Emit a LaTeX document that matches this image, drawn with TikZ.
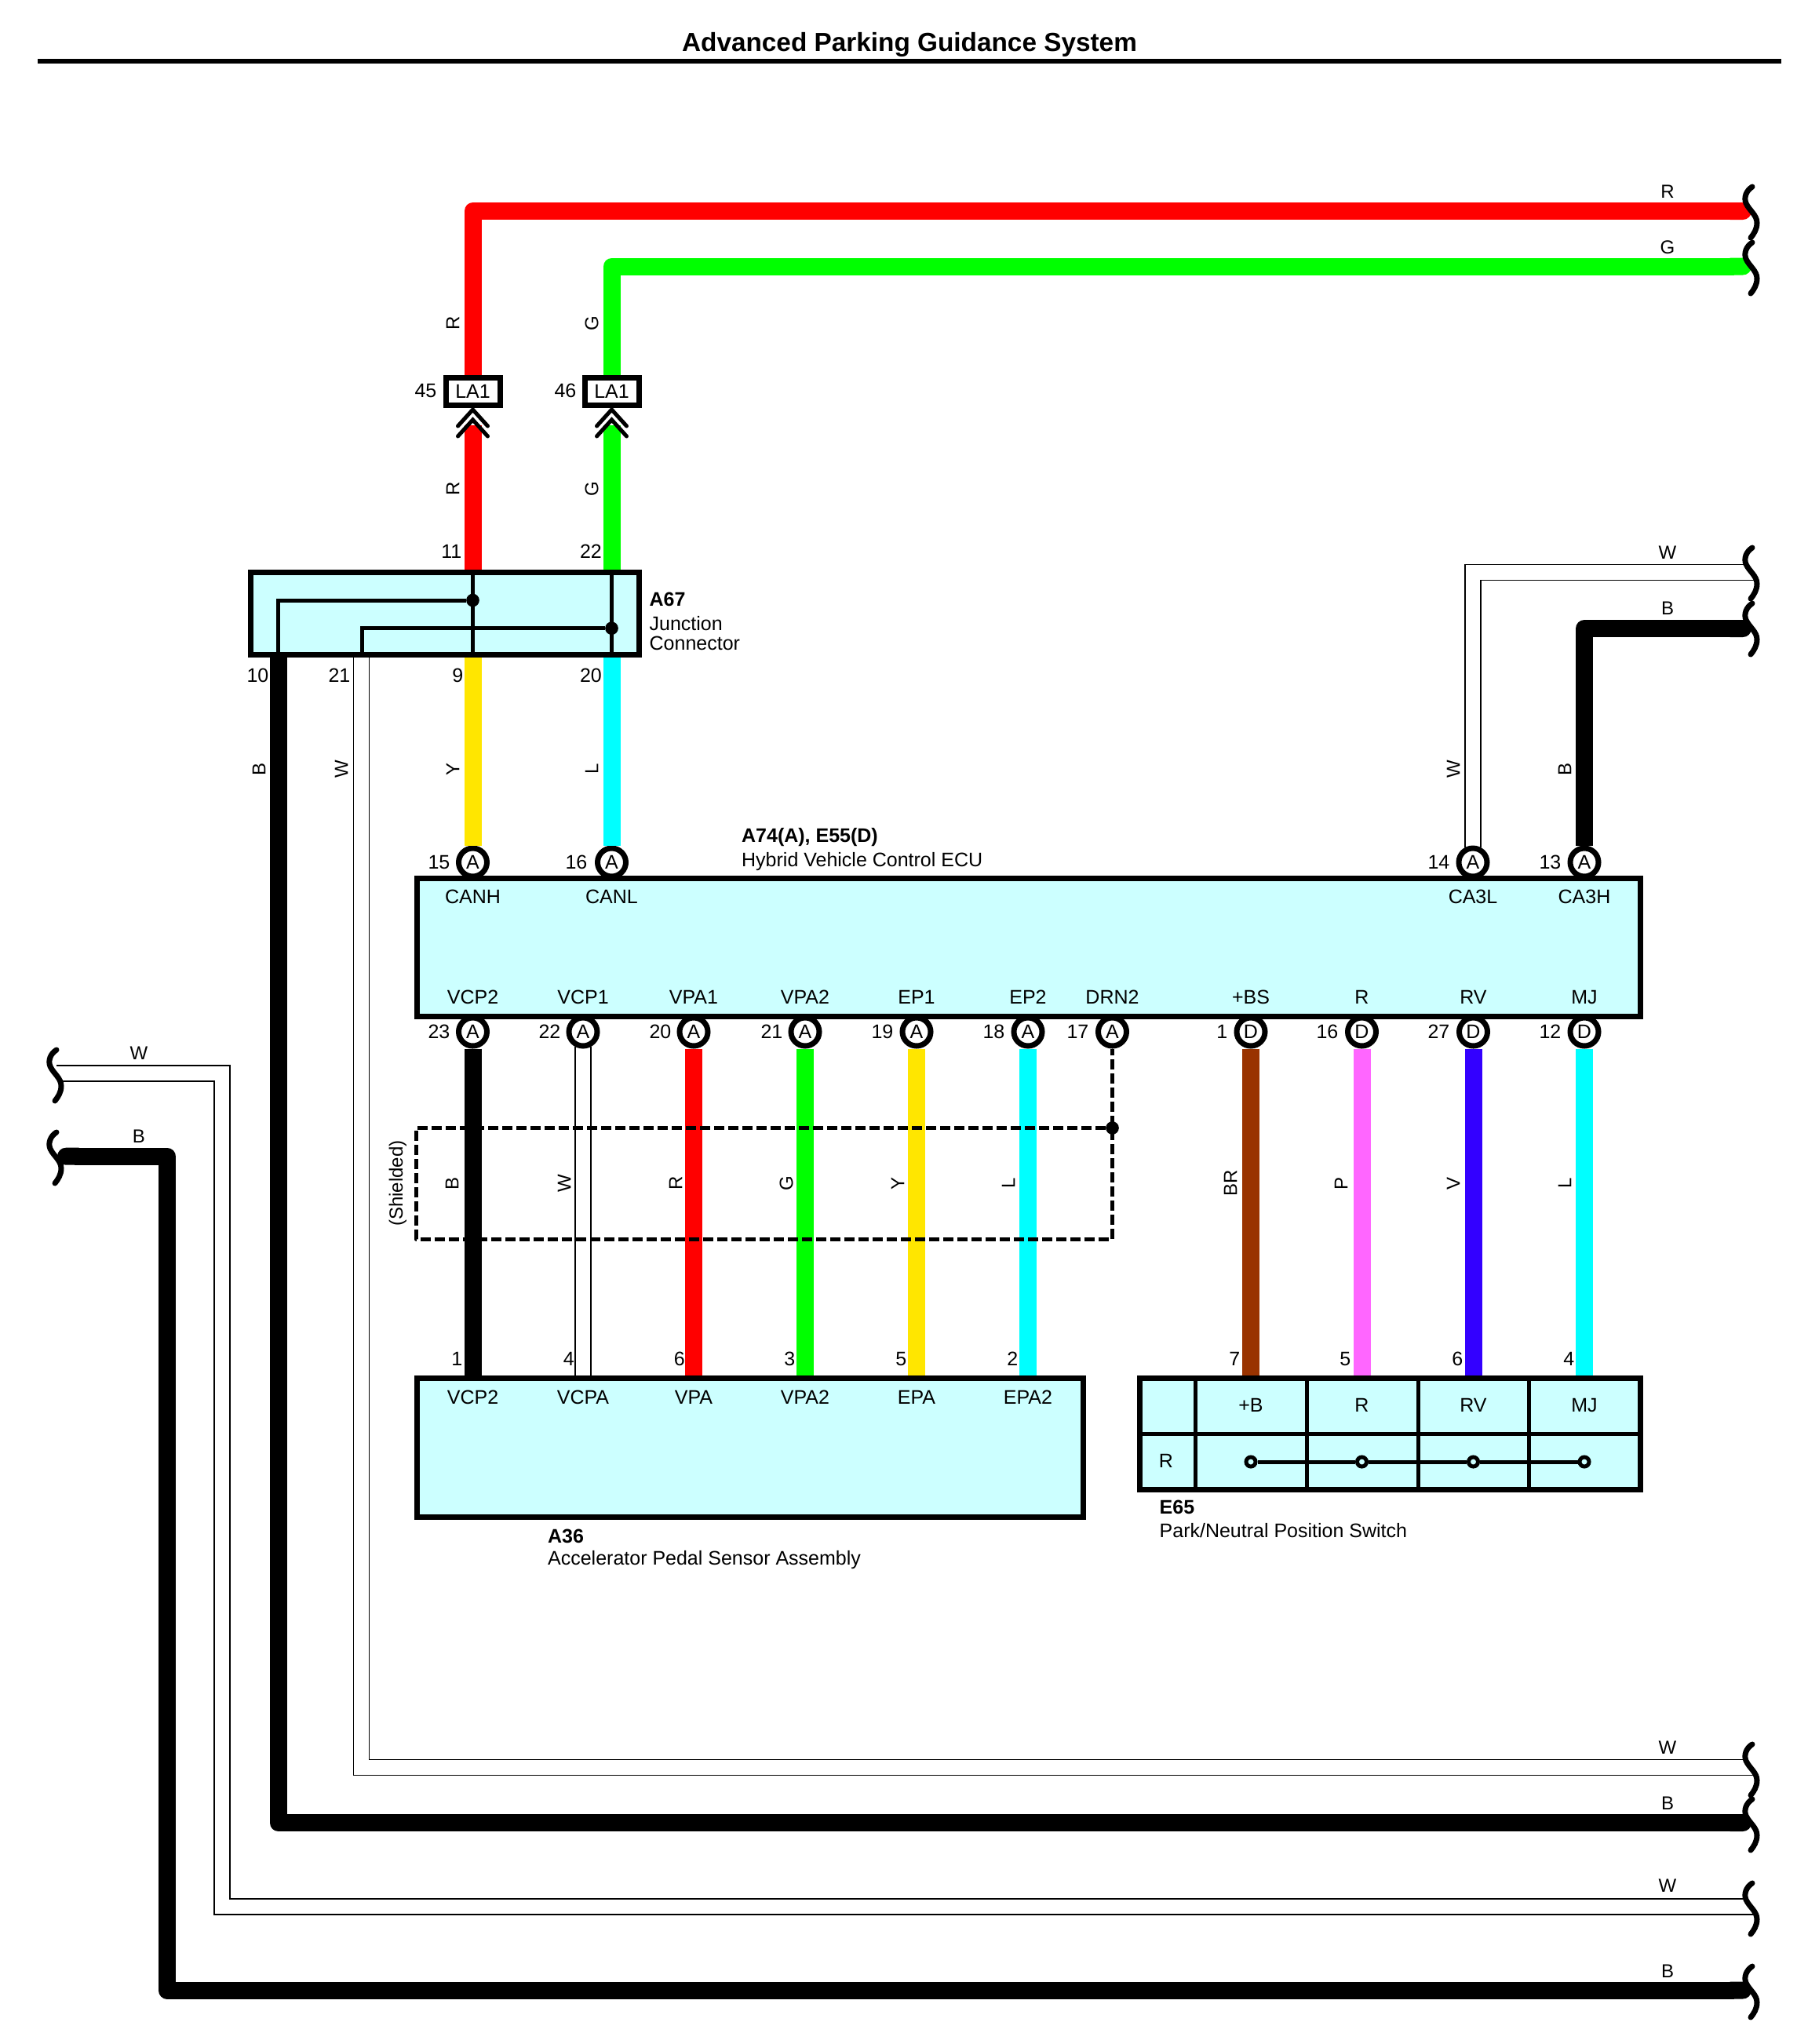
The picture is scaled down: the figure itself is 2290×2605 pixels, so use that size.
\documentclass[tikz,border=0pt]{standalone}
\usepackage{fontspec}
\setmainfont{Liberation Sans}
\usetikzlibrary{arrows.meta}
\definecolor{boxcyan}{HTML}{CCFFFF}
\definecolor{wred}{HTML}{FF0000}
\definecolor{wgreen}{HTML}{00FF00}
\definecolor{wyellow}{HTML}{FFE600}
\definecolor{wcyan}{HTML}{00FFFF}
\definecolor{wbrown}{HTML}{993300}
\definecolor{wpink}{HTML}{FF66FF}
\definecolor{wviolet}{HTML}{3300FF}
\tikzset{
  txt/.style={inner sep=0pt,font=\fontsize{7.5}{7.5}\selectfont},
  wlabel/.style={inner sep=0pt,font=\fontsize{7.2}{7.2}\selectfont},
  num/.style={txt,anchor=east},
  note/.style={txt,anchor=base west},
  notehead/.style={note,font=\fontsize{7.5}{7.5}\selectfont\bfseries},
  unit/.style={draw,line width=2.1pt,fill=boxcyan,inner sep=0pt},
  pinnode/.style={circle,draw,line width=2.1pt,fill=white,minimum size=10.8pt,inner sep=0pt,font=\fontsize{7.5}{7.5}\selectfont},
  lanode/.style={draw,line width=2.1pt,fill=white,minimum width=20.7pt,minimum height=10.5pt,inner sep=0pt,font=\fontsize{7.5}{7.5}\selectfont},
  wire/.style={line width=6.6pt,line join=round},
  capwire/.style={wire,{Round Cap}-{Round Cap}},
  whitewire/.style={line width=0.45pt},
  innerline/.style={line width=1.5pt},
  joint/.style={circle,fill=black,minimum size=5pt,inner sep=0pt},
  contact/.style={circle,draw,line width=1.5pt,fill=boxcyan,minimum size=3.6pt,inner sep=0pt},
  shieldline/.style={line width=1.5pt,dash pattern=on 3.9pt off 1.5pt,line join=round},
  brk/.pic={\draw[line width=2.1pt,line cap=round] (0,0) .. controls (-8,5) and (-11,14) .. (-8,21) .. controls (-4,30) and (6,36) .. (6,46) .. controls (6,54) and (2,60) .. (-2,65);},
  chev/.pic={\draw[line width=1.5pt,line cap=round,miter limit=10] (-19,21) -- (0,0) -- (19,21);}
}
\begin{document}
\begin{tikzpicture}[x=0.3pt,y=-0.3pt]
\useasboundingbox (0,0) rectangle (2290,2605);
\node[inner sep=0pt,font=\fontsize{10}{10}\selectfont\bfseries] (title) at (1159,57) {Advanced Parking Guidance System};
\coordinate (rulea) at (48,78);
\coordinate (ruleb) at (2270,78);
\draw[line width=1.8pt] (rulea) -- (ruleb);

\node[unit,minimum width=148.5pt,minimum height=31.35pt] (a67) at (567,782) {};
\node[unit,minimum width=467.55pt,minimum height=52.8pt] (ecu) at (1310.75,1207.5) {};
\node[unit,minimum width=254.55pt,minimum height=53.1pt] (a36) at (955.75,1845) {};
\node[unit,minimum width=191.25pt,minimum height=42.6pt] (e65) at (1771.25,1827.5) {};

\node[lanode] (la45) at (602.5,499) {LA1};
\node[lanode] (la46) at (779.5,499) {LA1};

\node[pinnode] (p15) at (602.5,1099) {A};
\node[pinnode] (p16) at (779.5,1099) {A};
\node[pinnode] (p14) at (1877,1099) {A};
\node[pinnode] (p13) at (2019,1099) {A};
\node[pinnode] (p23) at (602.5,1315) {A};
\node[pinnode] (p22) at (743,1315) {A};
\node[pinnode] (p20) at (884,1315) {A};
\node[pinnode] (p21) at (1026,1315) {A};
\node[pinnode] (p19) at (1168,1315) {A};
\node[pinnode] (p18) at (1310,1315) {A};
\node[pinnode] (p17) at (1417.5,1315) {A};
\node[pinnode] (d1) at (1594,1315) {D};
\node[pinnode] (d16) at (1735.5,1315) {D};
\node[pinnode] (d27) at (1877.5,1315) {D};
\node[pinnode] (d12) at (2019,1315) {D};

\coordinate (rend) at (2232,269);
\coordinate (gend) at (2232,339.5);
\coordinate (bend) at (2232,801);
\coordinate (cha) at (602.5,542);
\coordinate (chb) at (779.5,542);
\coordinate (t10) at (354.5,838);
\coordinate (t21a) at (450.5,838);
\coordinate (t21b) at (470.5,838);
\coordinate (t21) at (461,838);
\coordinate (wa) at (2225,719.5);
\coordinate (wb) at (2238,739.5);
\coordinate (wla) at (72,1358);
\coordinate (wlb) at (78,1378);
\coordinate (bl) at (73,1473.7);
\coordinate (wra) at (2225,2242.3);
\coordinate (wrb) at (2238,2262.3);
\coordinate (bra) at (2232,2323);
\coordinate (wrc) at (2225,2420);
\coordinate (wrd) at (2238,2440);
\coordinate (brb) at (2232,2536.5);
\coordinate (cnra) at (293,2420);
\coordinate (cnrb) at (273,2440);
\coordinate (cnrc) at (213,2536.5);

\draw[wire,wred,-{Round Cap}] (la45.north) |- (rend);
\draw[wire,wgreen,-{Round Cap}] (la46.north) |- (gend);
\draw[wire,wred] (cha) -- (cha |- a67.north);
\draw[wire,wgreen] (chb) -- (chb |- a67.north);
\draw[wire,wyellow] (p15.north) -- (p15.north |- a67.south);
\draw[wire,wcyan] (p16.north) -- (p16.north |- a67.south);
\draw[wire,-{Round Cap}] (p13.north) |- (bend);
\draw[wire,-{Round Cap}] (t10) |- (bra);
\draw[capwire] (bl) -| (cnrc) -- (brb);

\draw[whitewire] (wa) -| (p14.118);
\draw[whitewire] (wb) -| (p14.62);
\draw[whitewire] (t21b) |- (wra);
\draw[whitewire] (t21a) |- (wrb);
\draw[whitewire] (wla) -| (cnra) -- (wrc);
\draw[whitewire] (wlb) -| (cnrb) -- (wrd);

\draw[wire] (p23.south) -- (p23.south |- a36.north);
\draw[whitewire] (p22.242) -- (p22.242 |- a36.north);
\draw[whitewire] (p22.298) -- (p22.298 |- a36.north);
\draw[wire,wred] (p20.south) -- (p20.south |- a36.north);
\draw[wire,wgreen] (p21.south) -- (p21.south |- a36.north);
\draw[wire,wyellow] (p19.south) -- (p19.south |- a36.north);
\draw[wire,wcyan] (p18.south) -- (p18.south |- a36.north);
\draw[wire,wbrown] (d1.south) -- (d1.south |- e65.north);
\draw[wire,wpink] (d16.south) -- (d16.south |- e65.north);
\draw[wire,wviolet] (d27.south) -- (d27.south |- e65.north);
\draw[wire,wcyan] (d12.south) -- (d12.south |- e65.north);

\pic at (602.5,522) {chev};
\pic at (602.5,535) {chev};
\pic at (779.5,522) {chev};
\pic at (779.5,535) {chev};

\pic at (2233,238) {brk};
\pic at (2233,309) {brk};
\pic at (2233,698) {brk};
\pic at (2233,769) {brk};
\pic at (2233,2223) {brk};
\pic at (2233,2293) {brk};
\pic at (2233,2400) {brk};
\pic at (2233,2506) {brk};
\pic at (72,1338) {brk};
\pic at (72,1443) {brk};

\node[joint] (j1) at (602.5,765) {};
\node[joint] (j2) at (779.5,800.7) {};
\draw[innerline] (p15 |- a67.north) -- (p15 |- a67.south);
\draw[innerline] (p16 |- a67.north) -- (p16 |- a67.south);
\draw[innerline] (j1) -| (t10);
\draw[innerline] (j2) -| (t21);

\node[joint] (j3) at (1417.5,1437.5) {};
\coordinate (shnw) at (530,1437.5);
\coordinate (shsw) at (530,1579);
\draw[shieldline] (j3) -- (shnw) -- (shsw) -- (p17 |- shsw) -- (p17.south);

\draw[line width=1.5pt] (1523.5,1756) -- (1523.5,1899);
\draw[line width=1.5pt] (1665.5,1756) -- (1665.5,1899);
\draw[line width=1.5pt] (1807,1756) -- (1807,1899);
\draw[line width=1.5pt] (1948,1756) -- (1948,1899);
\draw[line width=1.5pt] (1452,1827) -- (2090,1827);
\node[contact] (c1) at (1594,1863) {};
\node[contact] (c2) at (1735.5,1863) {};
\node[contact] (c3) at (1877.5,1863) {};
\node[contact] (c4) at (2019,1863) {};
\draw[innerline] (c1) -- (c2);
\draw[innerline] (c2) -- (c3);
\draw[innerline] (c3) -- (c4);

\node[txt] (sw1) at (1594,1791) {+B};
\node[txt] (sw2) at (1735.5,1791) {R};
\node[txt] (sw3) at (1877.5,1791) {RV};
\node[txt] (sw4) at (2019,1791) {MJ};
\node[txt] (sw5) at (1486,1862) {R};

\node[num] (n45) at (557,498) {45};
\node[num] (n46) at (735,498) {46};
\node[num] (n11) at (589,703) {11};
\node[num] (n22) at (767.5,703) {22};
\node[num] (n10) at (343,861) {10};
\node[num] (n21) at (447,861) {21};
\node[num] (n9) at (591,861) {9};
\node[num] (n20) at (767.5,861) {20};
\node[num] (n15) at (574,1099) {15};
\node[num] (n16) at (749,1099) {16};
\node[num] (n14) at (1848,1099) {14};
\node[num] (n13) at (1990,1099) {13};
\node[num] (n23) at (574,1315) {23};
\node[num] (n22b) at (715,1315) {22};
\node[num] (n20b) at (856,1315) {20};
\node[num] (n21b) at (998,1315) {21};
\node[num] (n19) at (1139,1315) {19};
\node[num] (n18) at (1281,1315) {18};
\node[num] (n17) at (1388,1315) {17};
\node[num] (n1) at (1565,1315) {1};
\node[num] (n16b) at (1706,1315) {16};
\node[num] (n27) at (1848,1315) {27};
\node[num] (n12) at (1990,1315) {12};
\node[num] (m1) at (590,1732) {1};
\node[num] (m4) at (732.5,1732) {4};
\node[num] (m6) at (873.5,1732) {6};
\node[num] (m3) at (1014,1732) {3};
\node[num] (m5) at (1156,1732) {5};
\node[num] (m2) at (1298,1732) {2};
\node[num] (m7) at (1581,1732) {7};
\node[num] (m5b) at (1722,1732) {5};
\node[num] (m6b) at (1865,1732) {6};
\node[num] (m4b) at (2007,1732) {4};

\node[txt] (canh) at (602.5,1142.5) {CANH};
\node[txt] (canl) at (779.5,1142.5) {CANL};
\node[txt] (ca3l) at (1877,1142.5) {CA3L};
\node[txt] (ca3h) at (2019,1142.5) {CA3H};
\node[txt] (vcp2) at (602.5,1271) {VCP2};
\node[txt] (vcp1) at (743,1271) {VCP1};
\node[txt] (vpa1) at (884,1271) {VPA1};
\node[txt] (vpa2) at (1026,1271) {VPA2};
\node[txt] (ep1) at (1168,1271) {EP1};
\node[txt] (ep2) at (1310,1271) {EP2};
\node[txt] (drn2) at (1417.5,1271) {DRN2};
\node[txt] (bs) at (1594,1271) {+BS};
\node[txt] (rr) at (1735.5,1271) {R};
\node[txt] (rv) at (1877.5,1271) {RV};
\node[txt] (mj) at (2019,1271) {MJ};
\node[txt] (svcp2) at (602.5,1780.5) {VCP2};
\node[txt] (svcpa) at (743,1780.5) {VCPA};
\node[txt] (svpa) at (884,1780.5) {VPA};
\node[txt] (svpa2) at (1026,1780.5) {VPA2};
\node[txt] (sepa) at (1168,1780.5) {EPA};
\node[txt] (sepa2) at (1310,1780.5) {EPA2};

\node[notehead] (a67h) at (827,772) {A67};
\node[note] (a67n) at (827,803) {Junction};
\node[note] (a67m) at (827,828) {Connector};
\node[notehead] (ecuh) at (944.5,1073) {A74(A), E55(D)};
\node[note] (ecun) at (944.5,1104) {Hybrid Vehicle Control ECU};
\node[notehead] (a36h) at (697.5,1966) {A36};
\node[note] (a36n) at (697.5,1994) {Accelerator Pedal Sensor Assembly};
\node[notehead] (e65h) at (1477,1929) {E65};
\node[note] (e65n) at (1477,1959) {Park/Neutral Position Switch};

\node[wlabel] (lr) at (2125,244) {R};
\node[wlabel] (lg) at (2125,315) {G};
\node[wlabel] (lw) at (2125,704) {W};
\node[wlabel] (lb) at (2125,775.5) {B};
\node[wlabel] (lwa) at (2125,2227) {W};
\node[wlabel] (lba) at (2125,2298) {B};
\node[wlabel] (lwb) at (2125,2403) {W};
\node[wlabel] (lbb) at (2125,2512) {B};
\node[wlabel] (lwl) at (177,1342) {W};
\node[wlabel] (lbl) at (177,1448) {B};

\node[wlabel,rotate=90] (vr) at (577,412) {R};
\node[wlabel,rotate=90] (vg) at (754,412) {G};
\node[wlabel,rotate=90] (vrb) at (577,623) {R};
\node[wlabel,rotate=90] (vgb) at (754,623) {G};
\node[wlabel,rotate=90] (vb10) at (330,980) {B};
\node[wlabel,rotate=90] (vw21) at (435,980) {W};
\node[wlabel,rotate=90] (vy) at (577,980) {Y};
\node[wlabel,rotate=90] (vl) at (754,980) {L};
\node[wlabel,rotate=90] (vw14) at (1852,980) {W};
\node[wlabel,rotate=90] (vb13) at (1994,980) {B};
\node[wlabel,rotate=90] (sb) at (576,1508) {B};
\node[wlabel,rotate=90] (sw) at (719,1508) {W};
\node[wlabel,rotate=90] (sr) at (861,1508) {R};
\node[wlabel,rotate=90] (sg) at (1002,1508) {G};
\node[wlabel,rotate=90] (sy) at (1144,1508) {Y};
\node[wlabel,rotate=90] (sl) at (1285,1508) {L};
\node[wlabel,rotate=90] (sbr) at (1568,1508) {BR};
\node[wlabel,rotate=90] (sp) at (1709,1508) {P};
\node[wlabel,rotate=90] (sv) at (1852,1508) {V};
\node[wlabel,rotate=90] (sl2) at (1994,1508) {L};
\node[wlabel,rotate=90] (shield) at (507,1508) {(Shielded)};
\end{tikzpicture}
\end{document}
